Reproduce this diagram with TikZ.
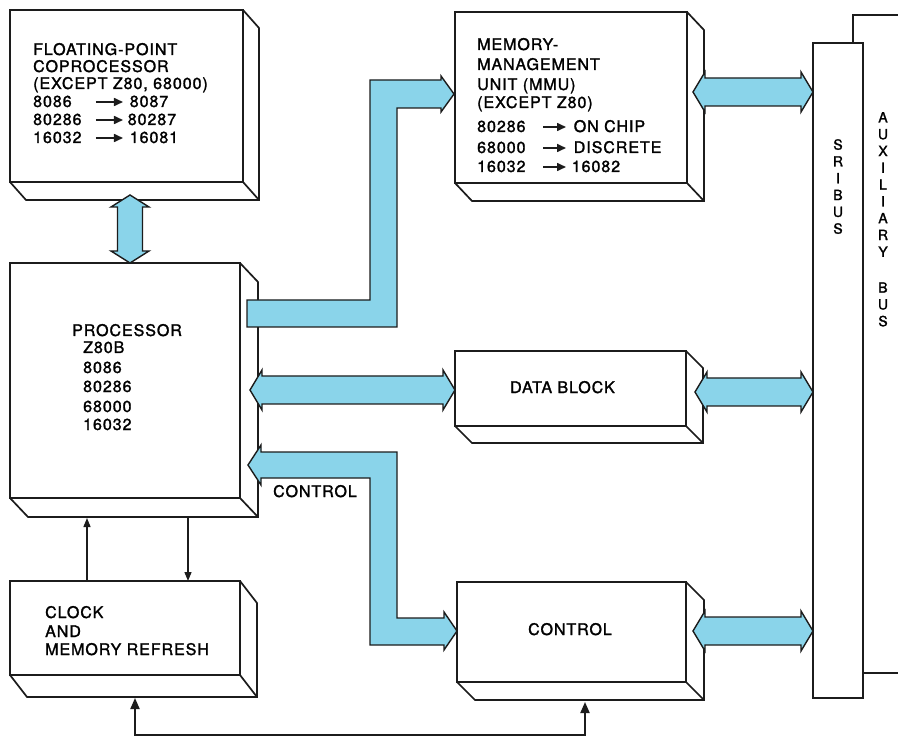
\documentclass[tikz,border=0pt]{standalone}
\usepackage{fontspec}
\setmainfont{TeX Gyre Heros}[LetterSpace=6,FakeBold=1.6]
\usetikzlibrary{arrows.meta,calc}
\definecolor{busblue}{RGB}{138,212,234}
\definecolor{inkc}{RGB}{28,28,28}
\newcommand\lblfont{\fontsize{16}{17}\selectfont}
\newcommand\busfont{\fontsize{14}{16.8}\selectfont}
\tikzset{
  boxline/.style={draw=inkc, line width=1.7pt, line join=miter},
  busarrow/.style={fill=busblue, draw=inkc, line width=1.4pt, line join=miter},
  thinar/.style={draw=inkc, line width=1.3pt, -{Triangle[length=9pt,width=7pt]}},
  fbar/.style={draw=inkc, line width=2pt, {Triangle[length=11pt,width=9pt]}-{Triangle[length=11pt,width=9pt]}},
  lbl/.style={anchor=base west, inner sep=0pt, font=\lblfont},
  bustext/.style={anchor=north, inner sep=0pt, align=center, font=\busfont}
}
\newcommand\tarr[1]{\tikz[baseline=-5pt]\draw[draw=inkc,line width=1.6pt,-{Triangle[length=9pt,width=8pt]}] (0pt,0pt) -- (#1pt,0pt);}
% name, x1, y1, x2, y2, depth x, depth y
\newcommand\boxthree[7]{%
  \node[boxline, fill=white, inner sep=0pt, outer sep=0pt, anchor=north west,
        minimum width={(#4-#2)*1pt}, minimum height={(#5-#3)*1pt}] (#1) at (#2,#3) {};
  \draw[boxline] (#1.north east) -- ++(#6,#7) -- ($(#1.south east)+(#6,#7)$)
     -- ($(#1.south west)+(#6,#7)$) -- (#1.south west);
  \draw[boxline] (#1.south east) -- ++(#6,#7);
}
\newcommand\dblH[2]{\path[busarrow] let \p1=#1, \p2=#2 in
  (\x1,\y1) -- (\x1+12pt,\y1+20pt) -- (\x1+12pt,\y1+14pt) -- (\x2-12pt,\y1+14pt)
  -- (\x2-12pt,\y1+20pt) -- (\x2,\y1) -- (\x2-12pt,\y1-20pt) -- (\x2-12pt,\y1-14pt)
  -- (\x1+12pt,\y1-14pt) -- (\x1+12pt,\y1-20pt) -- cycle;}
\newcommand\dblV[2]{\path[busarrow] let \p1=#1, \p2=#2 in
  (\x1,\y1) -- (\x1+19pt,\y1-12pt) -- (\x1+12.5pt,\y1-12pt) -- (\x1+12.5pt,\y2+12pt)
  -- (\x1+19pt,\y2+12pt) -- (\x1,\y2) -- (\x1-19pt,\y2+12pt) -- (\x1-12.5pt,\y2+12pt)
  -- (\x1-12.5pt,\y1-12pt) -- (\x1-19pt,\y1-12pt) -- cycle;}
\begin{document}
\begin{tikzpicture}[x=1pt,y=-1pt]
\useasboundingbox (0,0) rectangle (898,738);
\fill[white] (0,0) rectangle (898,738);

% ---- boxes ----
\boxthree{fp}{10}{10}{243}{182}{16}{18}
\boxthree{mmu}{455}{12}{687}{183}{17}{18}
\boxthree{proc}{10}{263}{240}{498}{18}{19}
\boxthree{dat}{455}{351}{686}{426}{17}{17}
\boxthree{ctl}{457}{582}{686}{682}{18}{18}
\boxthree{clk}{10}{581}{240}{675}{17}{22}

% ---- buses ----
\node[boxline, fill=white, inner sep=0pt, outer sep=0pt, anchor=north west,
      minimum width=50pt, minimum height=655pt] (sri) at (813,43) {};
\draw[boxline] ($(sri.north east)+(-10,0)$) |- (898,15);
\coordinate (auxb) at (898,673);
\draw[boxline] (auxb -| sri.east) -- (auxb);
\node[bustext] (sritext) at (838,139) {S\\R\\I\\B\\U\\S};
\node[bustext] (auxtext) at (883,112) {A\\U\\X\\I\\L\\I\\A\\R\\Y\\[19pt]B\\U\\S};

% ---- bus arrows ----
\coordinate (v0) at (130,195);
\dblV{(v0)}{(v0 |- proc.north)}
\path[busarrow] (247,300) -- (370,300) -- (370,80) -- (441,80) -- (441,76)
  -- (454,94) -- (441,112) -- (441,108) -- (397,108) -- (397,327) -- (247,327) -- cycle;
\coordinate (m1) at (693,92);
\dblH{(m1)}{(m1 -| sri.west)}
\coordinate (d0) at (250,390);
\dblH{(d0)}{(d0 -| dat.west)}
\coordinate (d1) at (695,392);
\dblH{(d1)}{(d1 -| sri.west)}
\path[busarrow] (248,465) -- (261,445) -- (261,452) -- (397,452) -- (397,618)
  -- (444,618) -- (444,612) -- (457,631) -- (444,650) -- (444,645) -- (370,645)
  -- (370,478) -- (261,478) -- (261,485) -- cycle;
\coordinate (c1) at (693,631);
\dblH{(c1)}{(c1 -| sri.west)}

% ---- thin connectors ----
\draw[thinar] ($(clk.north west)+(77,0)$) -- ($(proc.south west)+(77,20)$);
\draw[thinar] ($(proc.south west)+(178,20)$) -- ($(clk.north west)+(178,0)$);
\draw[fbar] ($(ctl.south west)+(128,20)$) |- ($(clk.south west)+(125,60)$)
  -- ($(clk.south west)+(125,23)$);

% ---- texts ----
\node[lbl] (fp1) at (33,55) {FLOATING-POINT};
\node[lbl] (fp2) at (33,72) {COPROCESSOR};
\node[lbl] (fp3) at (33,89) {(EXCEPT Z80, 68000)};
\node[lbl] (fp4) at (33,107) {\makebox[62pt][l]{8086}\tarr{27}\hspace{6pt}8087};
\node[lbl] (fp5) at (33,125) {\makebox[62pt][l]{80286}\tarr{27}\hspace{4pt}80287};
\node[lbl] (fp6) at (33,143) {\makebox[62pt][l]{16032}\tarr{27}\hspace{6pt}16081};

\node[lbl] (mm1) at (477,50) {MEMORY-};
\node[lbl] (mm2) at (477,70) {MANAGEMENT};
\node[lbl] (mm3) at (477,90) {UNIT (MMU)};
\node[lbl] (mm4) at (477,108) {(EXCEPT Z80)};
\node[lbl] (mm5) at (477,132) {\makebox[65pt][l]{80286}\tarr{23}\hspace{7pt}ON CHIP};
\node[lbl] (mm6) at (477,153) {\makebox[65pt][l]{68000}\tarr{23}\hspace{7pt}DISCRETE};
\node[lbl] (mm7) at (477,172) {\makebox[65pt][l]{16032}\tarr{23}\hspace{5pt}16082};

\node[lbl] (pr1) at (72,336) {PROCESSOR};
\node[lbl] (pr2) at (83,353) {Z80B};
\node[lbl] (pr3) at (83,373) {8086};
\node[lbl] (pr4) at (83,392) {80286};
\node[lbl] (pr5) at (83,412) {68000};
\node[lbl] (pr6) at (83,430) {16032};

\node[lbl] (dtxt) at (510,393) {DATA BLOCK};
\node[lbl] (ctxt) at (273,497) {CONTROL};
\node[lbl] (ctltxt) at (528,635) {CONTROL};

\node[lbl] (ck1) at (45,618) {CLOCK};
\node[lbl] (ck2) at (45,637) {AND};
\node[lbl] (ck3) at (45,655) {MEMORY REFRESH};
\end{tikzpicture}
\end{document}
